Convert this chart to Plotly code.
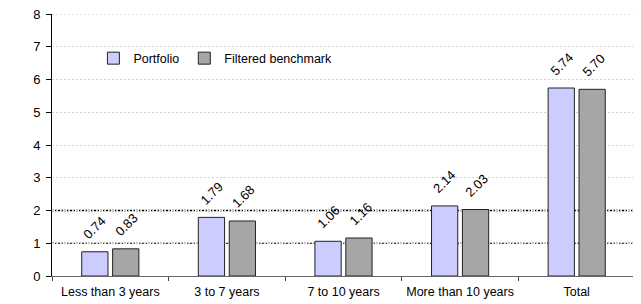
import plotly.graph_objects as go

categories = ["Less than 3 years", "3 to 7 years", "7 to 10 years", "More than 10 years", "Total"]
portfolio = [0.74, 1.79, 1.06, 2.14, 5.74]
benchmark = [0.83, 1.68, 1.16, 2.03, 5.70]
y_ticks = [0, 1, 2, 3, 4, 5, 6, 7, 8]

FONT = "Liberation Sans, Arial, sans-serif"

fig = go.Figure()
fig.add_trace(go.Bar(
    x=categories, y=portfolio, name="Portfolio",
    marker=dict(color="#CCCCFF", line=dict(color="#222222", width=1)),
))
fig.add_trace(go.Bar(
    x=categories, y=benchmark, name="Filtered benchmark",
    marker=dict(color="#A6A6A6", line=dict(color="#222222", width=1)),
))

# value labels, rotated, above each bar
for series, shift in [(portfolio, -15.5), (benchmark, 16.5)]:
    for cat, v in zip(categories, series):
        fig.add_annotation(x=cat, y=v, xref="x", yref="y", text=f"{v:.2f}",
                           showarrow=False, textangle=-45, xshift=shift, yshift=24,
                           xanchor="center", yanchor="middle",
                           font=dict(size=13, family=FONT, color="#000000"))

for lvl, w in [(1, 1.2), (2, 1.6)]:
    fig.add_shape(type="line", xref="paper", x0=0, x1=1, yref="y", y0=lvl, y1=lvl,
                  line=dict(color="#000000", width=w, dash="2px,1px"), layer="between")
fig.add_shape(type="line", xref="paper", x0=0, x1=1, yref="y", y0=y_ticks[-1], y1=y_ticks[-1],
              line=dict(color="#C8C8C8", width=1, dash="2px,2px"), layer="between")

# page body adds an 8px offset; compensate in size and margins
fig.update_layout(
    width=633, height=296,
    margin=dict(l=44, r=6, t=6, b=28),
    paper_bgcolor="white", plot_bgcolor="white",
    font=dict(family=FONT, size=12.5, color="#000000"),
    barmode="group", bargap=0.47, bargroupgap=0.15,
    legend=dict(orientation="h", x=0.071, y=0.83, xanchor="left", yanchor="middle",
                font=dict(size=12.5, family=FONT), bgcolor="rgba(0,0,0,0)",
                itemwidth=30, traceorder="normal"),
    showlegend=True,
)
fig.update_xaxes(
    showline=True, linecolor="#666666", linewidth=1,
    ticks="outside", ticklen=4, tickcolor="#444444", tickson="boundaries",
    showgrid=False, tickfont=dict(size=12.5, family=FONT), tickangle=0,
    automargin=False, ticklabelstandoff=4, ticklabeloverflow="allow",
)
fig.update_yaxes(
    range=[0, 8], tickvals=y_ticks, showline=True, linecolor="#000000", linewidth=1,
    ticks="outside", ticklen=5, tickcolor="#000000",
    showgrid=True, gridcolor="#D0D0D0", griddash="2px,2px", gridwidth=1,
    zeroline=False, tickfont=dict(size=13, family=FONT), automargin=False,
    ticklabelstandoff=3, ticklabeloverflow="allow",
)

fig.write_html("out.html")
